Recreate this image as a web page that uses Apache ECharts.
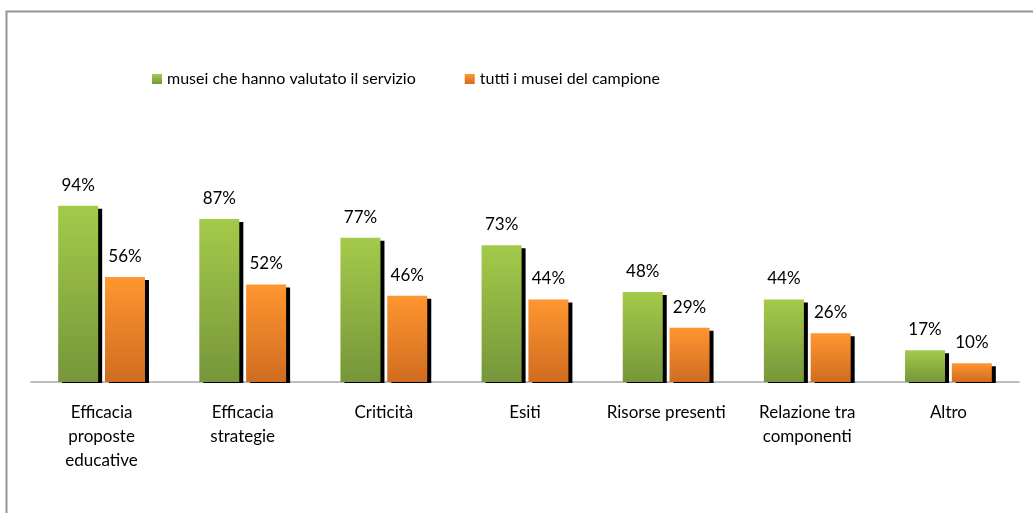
<!DOCTYPE html>
<html>
<head>
<meta charset="utf-8">
<script src="https://cdn.jsdelivr.net/npm/echarts@6/dist/echarts.min.js"></script>
<style>
  html, body { margin: 0; padding: 0; background: #fff; }
  #chart { width: 1033px; height: 513px; }
</style>
</head>
<body>
<div id="chart"></div>
<script>
// categorie e valori (percentuali)
var categories = ['Efficacia\nproposte\neducative', 'Efficacia\nstrategie', 'Criticità', 'Esiti',
  'Risorse presenti', 'Relazione tra\ncomponenti', 'Altro'];
var seriesNames = ['musei che hanno valutato il servizio', 'tutti i musei del campione'];
var valutato = [94, 87, 77, 73, 48, 44, 17];
var campione = [56, 52, 46, 44, 29, 26, 10];

var font = 'Lato';

function grad(top, bottom) {
  return new echarts.graphic.LinearGradient(0, 0, 0, 1, [
    { offset: 0, color: top },
    { offset: 1, color: bottom }
  ]);
}

function barSeries(name, data, top, bottom) {
  return {
    name: name,
    type: 'bar',
    data: data,
    barWidth: 40,
    barGap: '17%',
    itemStyle: {
      color: grad(top, bottom),
      shadowColor: '#000',
      shadowOffsetX: 4,
      shadowOffsetY: 3,
      shadowBlur: 0
    },
    label: {
      show: true,
      position: 'top',
      distance: 12,
      formatter: '{c}%',
      color: '#000',
      fontFamily: font,
      fontSize: 17
    }
  };
}

var chart = echarts.init(document.getElementById('chart'));
var option = {
  animation: false,
  backgroundColor: '#fff',
  grid: { left: 31, right: 14, top: 194.5, bottom: 131 },
  legend: {
    left: 152,
    top: 71,
    padding: 0,
    itemWidth: 10,
    itemHeight: 10,
    itemGap: 49,
    icon: 'rect',
    textStyle: { fontFamily: font, fontSize: 16, color: '#000' },
    itemStyle: { shadowOffsetX: 0, shadowOffsetY: 0, borderWidth: 0 }
  },
  xAxis: {
    type: 'category',
    data: categories,
    axisLine: { lineStyle: { color: '#a6a6a6', width: 1.5 } },
    axisTick: { show: false },
    axisLabel: {
      interval: 0,
      margin: 19,
      color: '#000',
      fontFamily: font,
      fontSize: 17,
      lineHeight: 24
    }
  },
  yAxis: {
    type: 'value',
    min: 0,
    max: 100,
    show: false,
    splitLine: { show: false }
  },
  series: [
    barSeries(seriesNames[0], valutato, '#a4ca4a', '#76963a'),
    barSeries(seriesNames[1], campione, '#ff9630', '#d06c20')
  ],
  graphic: [
    { // copre l'ombra sotto l'asse
      type: 'rect', z: 10,
      shape: { x: 31, y: 383, width: 1000, height: 5 },
      style: { fill: '#fff' }
    },
    { // cornice del grafico
      type: 'rect', z: 20,
      shape: { x: 6.5, y: 11.5, width: 1100, height: 600 },
      style: { fill: 'none', stroke: '#969696', lineWidth: 2 }
    }
  ]
};
chart.setOption(option);
window.addEventListener('resize', function () {
  chart.resize();
});
</script>
</body>
</html>
